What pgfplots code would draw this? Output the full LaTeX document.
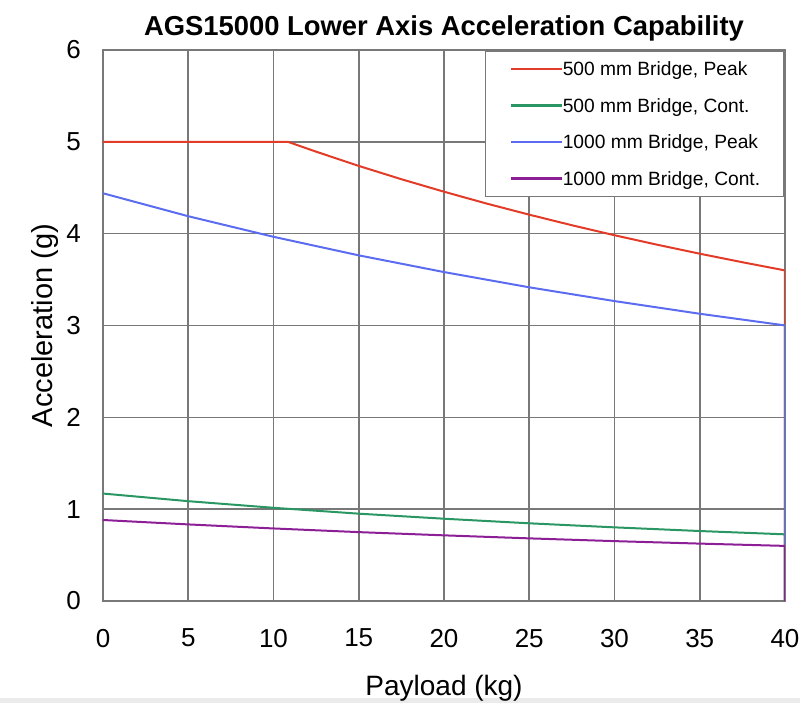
\documentclass[border=0pt]{standalone}
\usepackage{fontspec}
\setmainfont{Liberation Sans}
\usepackage{pgfplots}
\pgfplotsset{compat=1.18}

\definecolor{cRed}{RGB}{226,60,40}
\definecolor{cGreen}{RGB}{42,150,100}
\definecolor{cBlue}{RGB}{92,108,240}
\definecolor{cPurple}{RGB}{140,30,150}
\definecolor{cGrid}{RGB}{120,120,120}

\begin{document}
\begin{tikzpicture}
\useasboundingbox (0,0) rectangle (400pt,351.5pt);
% thin grey strip at the bottom edge of the original screenshot
\fill[black!8] (0,0) rectangle (400pt,2.5pt);
\begin{axis}[
    at={(51.5pt,51pt)}, anchor=south west,
    scale only axis,
    width=341pt, height=275.5pt,
    xmin=0, xmax=40, ymin=0, ymax=6,
    xtick={0,5,...,40}, ytick={0,1,...,6},
    major tick length=0pt,
    xmajorgrids=true, ymajorgrids=true,
    grid style={cGrid, line width=0.8pt},
    axis line style={cGrid, line width=0.8pt},
    /pgf/number format/assume math mode=true,
    tick label style={font=\fontsize{13}{13}\selectfont},
    xticklabel style={yshift=-10.5pt},
    yticklabel style={xshift=-7.5pt},
    xlabel={Payload (kg)},
    ylabel={Acceleration (g)},
    xlabel style={font=\fontsize{14}{14}\selectfont, yshift=-7pt},
    ylabel style={font=\fontsize{14.5}{14.5}\selectfont, yshift=-3pt},
    title={\bfseries AGS15000 Lower Axis Acceleration Capability},
    title style={font=\fontsize{13.7}{13.7}\selectfont, yshift=-5pt},
    legend style={at={(1,1)}, anchor=north east, draw=cGrid, line width=0.8pt,
        font=\fontsize{9.6}{9.6}\selectfont, inner xsep=12pt, inner ysep=2.5pt,
        row sep=5.25pt, nodes={inner sep=0pt, text height=10pt, text depth=3pt}},
    legend cell align=left,
    legend image code/.code={\draw[#1, line width=1.2pt] (0pt,0pt) -- (25.5pt,0pt);},
    every axis plot/.append style={line width=1pt},
]
\addplot[cRed] coordinates {(0,5)(10.85,5)(12.5,4.893)(15,4.738)(17.5,4.593)(20,4.457)(22.5,4.328)(25,4.207)(27.5,4.092)(30,3.983)(32.5,3.880)(35,3.782)(37.5,3.689)(40,3.600)(40,0)};
\addplot[cGreen] coordinates {(0,1.170)(5,1.087)(10,1.015)(15,0.951)(20,0.896)(25,0.846)(30,0.802)(35,0.762)(40,0.726)(40,0)};
\addplot[cBlue] coordinates {(0,4.440)(5,4.190)(10,3.966)(15,3.764)(20,3.582)(25,3.416)(30,3.266)(35,3.128)(40,3.001)(40,0)};
\addplot[cPurple] coordinates {(0,0.882)(5,0.834)(10,0.790)(15,0.750)(20,0.715)(25,0.682)(30,0.652)(35,0.625)(40,0.600)(40,0)};
\legend{500 mm Bridge{,} Peak, 500 mm Bridge{,} Cont., 1000 mm Bridge{,} Peak, 1000 mm Bridge{,} Cont.}
\end{axis}
\end{tikzpicture}
\end{document}
